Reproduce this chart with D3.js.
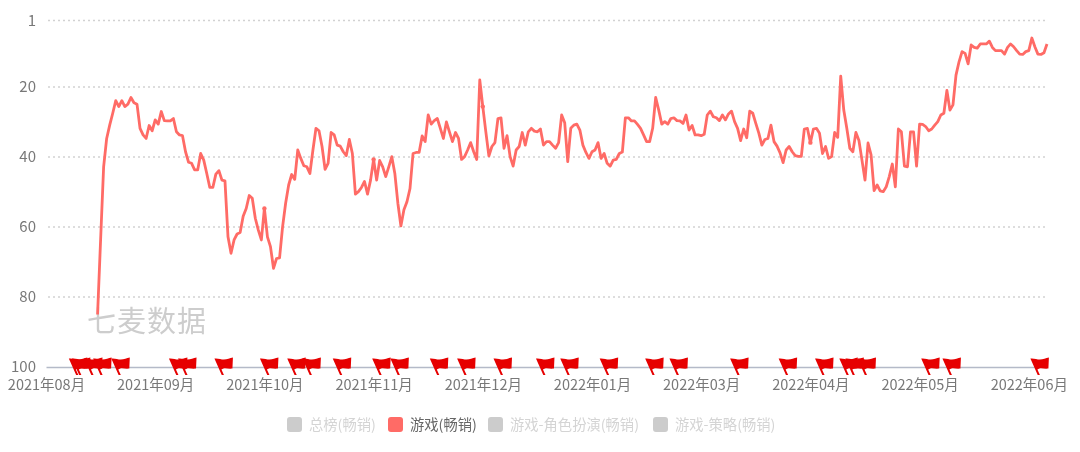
<!DOCTYPE html>
<html>
<head>
<meta charset="utf-8">
<script src="https://cdn.jsdelivr.net/npm/d3@7"></script>
<style>
  html, body { margin: 0; padding: 0; background: #fff; }
  svg { display: block; filter: blur(0.3px); }
  svg text { font-family: "Noto Sans CJK SC", sans-serif; }
</style>
</head>
<body>
<svg id="chart" width="1080" height="452"></svg>
<script>
const width = 1080;
const height = 452;
const margin = { top: 20.5, right: 32, bottom: 85, left: 46 };

const rankTicks = [1, 20, 40, 60, 80, 100];
const monthLabels = ['2021年08月', '2021年09月', '2021年10月', '2021年11月', '2021年12月',
  '2022年01月', '2022年03月', '2022年04月', '2022年05月', '2022年06月'];
const monthEvery = 36; // one label every 36 days on the axis
const lastDay = 330;
const firstDay = 17; // the series starts here

const ranks = [
  85, 63.7, 42.8, 34.7, 30.9, 27.5, 23.9, 25.6, 23.9, 25.6, 24.9, 23, 24.5, 24.9,
  31.8, 33.7, 34.7, 31, 32.5, 29.4, 30.6, 27, 29.6, 29.7, 29.7, 29, 32.8, 33.7, 33.9,
  38.5, 41.5, 41.8, 43.7, 43.7, 39, 40.9, 44.7, 48.7, 48.7, 44.9, 43.9, 46.6, 46.8,
  62.8, 67.5, 63.7, 62, 61.6, 56.9, 54.7, 51, 51.8, 57.5, 60.9, 63.7, 54.7, 62.8, 65.6,
  71.8, 69, 68.8, 59.9, 53.2, 48, 45, 46.4, 38, 40.4, 42.5, 42.8, 44.7, 38, 31.8, 32.5,
  37, 43.5, 41.8, 33, 33.7, 36.6, 36.9, 38.5, 39.6, 35, 39, 50.6, 49.9, 48.7, 47, 50.6,
  46.6, 40.7, 46.6, 41, 42.8, 45.6, 42.8, 39.9, 44.7, 53.2, 59.7, 55.1, 52.8, 49, 39,
  38.7, 38.7, 34, 35.6, 28, 30.6, 29.6, 29, 31.8, 34.7, 30, 32.8, 35.6, 33, 34.7, 40.7,
  39.9, 38, 35.9, 38.5, 40.7, 18, 25.6, 32.8, 39.7, 37, 35.9, 29, 28.8, 37.5, 33.9,
  39.9, 42.6, 38, 37, 33, 36.6, 32.8, 31.8, 32.6, 32.8, 32, 36.6, 35.6, 35.6, 36.6,
  37.5, 35.9, 28, 30.2, 41.3, 31.8, 30.9, 30.6, 32.3, 36.6, 38.7, 40.4, 38.5, 38, 35.9,
  40.4, 39, 41.8, 42.6, 40.9, 40.7, 39, 38.6, 28.8, 28.8, 29.7, 29.7, 30.7, 31.8, 33.7,
  35.6, 35.6, 31.8, 23, 26.6, 30.6, 29.9, 30.6, 29, 28.8, 29.6, 29.7, 30.4, 28, 32.3,
  31, 33.7, 33.7, 33.9, 33.5, 28, 26.9, 28.5, 28.8, 29.6, 28, 29.4, 27.7, 26.9, 29.9,
  31.8, 35.3, 32, 34.5, 26.9, 27.5, 30.4, 33.2, 36.6, 35, 34.7, 30.9, 35.6, 36.9, 38.8,
  41.6, 38, 37, 38.5, 39.6, 39.8, 39.8, 32, 31.8, 35.9, 32, 31.8, 33.2, 39, 37, 40.4,
  39.9, 33, 34.4, 16.9, 26.6, 31.8, 37.5, 38.5, 33, 35.3, 40.9, 46.6, 36, 39.4, 49.6,
  48, 49.7, 49.9, 48.5, 45.6, 42, 48.5, 32, 32.8, 42.6, 42.8, 32.8, 32.8, 42.6, 30.6,
  30.7, 31.3, 32.5, 32, 30.9, 29.9, 28, 27.5, 21, 26.6, 25.1, 16.6, 12.8, 9.9, 10.4,
  13.4, 8, 8.7, 8.9, 7.7, 7.7, 7.7, 6.9, 8.7, 9.6, 9.6, 9.6, 10.6, 8.7, 7.7, 8.5, 9.6,
  10.6, 10.7, 9.9, 9.6, 6, 8.5, 10.6, 10.7, 10.2, 7.7
];

const flagDays = [10, 11, 15, 18, 24, 43, 46, 58, 73, 82, 87, 97, 110, 116, 129, 138,
  150, 164, 172, 185, 200, 208, 228, 244, 256, 264, 266, 270, 291, 298, 327];
const dotDays = [72, 108, 144, 252];

const legendNames = ['总榜(畅销)', '游戏(畅销)', '游戏-角色扮演(畅销)', '游戏-策略(畅销)'];
const legendSquareX = [287, 388, 488, 653];
const activeLegend = 1;

const lineColor = '#ff6b66';
const flagColor = '#e60000';
const labelColor = '#787878';

const svg = d3.select('#chart');

const xScale = d3.scaleLinear().domain([0, lastDay]).range([margin.left, 1047]);
const yScale = d3.scaleLinear().domain([1, 100]).range([margin.top, height - margin.bottom]);

// dotted grid
svg.append('g')
  .selectAll('line')
  .data(rankTicks.slice(0, -1))
  .join('line')
  .attr('x1', margin.left + 2)
  .attr('x2', width - margin.right)
  .attr('y1', (d) => yScale(d))
  .attr('y2', (d) => yScale(d))
  .attr('stroke', '#d2d2d2')
  .attr('stroke-width', 1.5)
  .attr('stroke-dasharray', '2 3');

// y axis
const yAxis = svg.append('g')
  .attr('transform', `translate(${margin.left}, 0)`)
  .call(d3.axisLeft(yScale).tickValues(rankTicks).tickSize(0).tickPadding(10));
yAxis.select('.domain').remove();
yAxis.selectAll('text')
  .attr('fill', labelColor)
  .style('font-size', '15px');

// x axis
const xAxis = svg.append('g')
  .attr('transform', `translate(0, ${height - margin.bottom})`)
  .call(d3.axisBottom(xScale)
    .tickValues(monthLabels.map((d, i) => i * monthEvery))
    .tickFormat((d, i) => monthLabels[i])
    .tickSize(0)
    .tickPadding(12.5));
xAxis.select('.domain')
  .attr('stroke', '#b4bac8')
  .attr('stroke-width', 1.5);
xAxis.selectAll('text')
  .attr('fill', labelColor)
  .style('font-size', '14.5px');

// watermark
svg.append('text')
  .attr('x', 87)
  .attr('y', 332)
  .attr('fill', '#cdcdcd')
  .style('font-size', '29px')
  .style('letter-spacing', '1px')
  .text('七麦数据');

// rank line
const lineGenerator = d3.line()
  .x((d, i) => xScale(firstDay + i))
  .y((d) => yScale(d));

svg.append('path')
  .datum(ranks)
  .attr('fill', 'none')
  .attr('stroke', lineColor)
  .attr('stroke-width', 2.8)
  .attr('stroke-linejoin', 'round')
  .attr('d', lineGenerator);

svg.append('g')
  .selectAll('circle')
  .data(dotDays)
  .join('circle')
  .attr('cx', (d) => xScale(d))
  .attr('cy', (d) => yScale(ranks[d - firstDay]))
  .attr('r', 2.2)
  .attr('fill', lineColor);

// flags, tip of the pole is the anchor
const flagPath = 'M-0.2,0 L-7.5,-16.5 C-4,-17 -1,-15.5 2,-15.5 C5,-15.5 8,-17 11,-17.5 L10.5,-6.5 ' +
  'C7,-6 4,-7 1.5,-6.5 C0.8,-6.3 0,-6 -0.5,-5.5 L2,0 Z';

svg.append('g')
  .selectAll('path')
  .data(flagDays)
  .join('path')
  .attr('transform', (d) => `translate(${xScale(d)}, 375)`)
  .attr('d', flagPath)
  .attr('fill', flagColor);

// legend
const legend = svg.append('g')
  .selectAll('g')
  .data(legendNames)
  .join('g')
  .attr('transform', (d, i) => `translate(${legendSquareX[i]}, 417)`);

legend.append('rect')
  .attr('width', 15)
  .attr('height', 15)
  .attr('rx', 3)
  .attr('fill', (d, i) => (i === activeLegend ? lineColor : '#cccccc'));

legend.append('text')
  .attr('x', 22)
  .attr('y', 13)
  .attr('fill', (d, i) => (i === activeLegend ? '#666666' : '#d4d4d4'))
  .style('font-size', '14.3px')
  .text((d) => d);
</script>
</body>
</html>
